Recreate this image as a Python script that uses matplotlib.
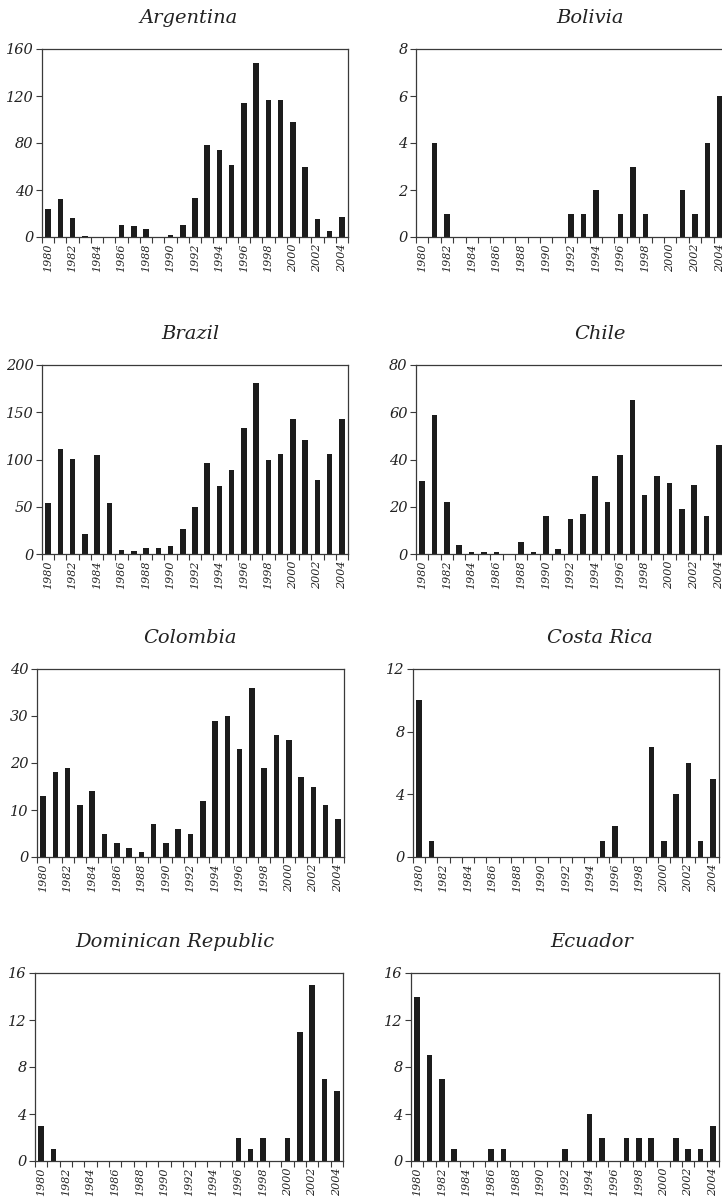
import matplotlib
matplotlib.use("Agg")
import matplotlib.pyplot as plt

years = [1980, 1981, 1982, 1983, 1984, 1985, 1986, 1987, 1988, 1989, 1990,
         1991, 1992, 1993, 1994, 1995, 1996, 1997, 1998, 1999, 2000, 2001,
         2002, 2003, 2004]

argentina = [24, 32, 16, 1, 0, 0, 10, 9, 7, 0, 2, 10, 33, 78, 74, 61, 114,
             148, 117, 117, 98, 60, 15, 5, 17]
bolivia = [0, 4, 1, 0, 0, 0, 0, 0, 0, 0, 0, 0, 1, 1, 2, 0, 1, 3, 1, 0, 0, 2,
           1, 4, 6]
brazil = [54, 111, 101, 21, 105, 54, 4, 3, 6, 6, 8, 26, 50, 96, 72, 89, 133,
          181, 100, 106, 143, 121, 78, 106, 143]
chile = [31, 59, 22, 4, 1, 1, 1, 0, 5, 1, 16, 2, 15, 17, 33, 22, 42, 65, 25,
         33, 30, 19, 29, 16, 46]
colombia = [13, 18, 19, 11, 14, 5, 3, 2, 1, 7, 3, 6, 5, 12, 29, 30, 23, 36,
            19, 26, 25, 17, 15, 11, 8]
costa_rica = [10, 1, 0, 0, 0, 0, 0, 0, 0, 0, 0, 0, 0, 0, 0, 1, 2, 0, 0, 7, 1,
              4, 6, 1, 5]
dominican_republic = [3, 1, 0, 0, 0, 0, 0, 0, 0, 0, 0, 0, 0, 0, 0, 0, 2, 1, 2,
                      0, 2, 11, 15, 7, 6]
ecuador = [14, 9, 7, 1, 0, 0, 1, 1, 0, 0, 0, 0, 1, 0, 4, 2, 0, 2, 2, 2, 0, 2,
           1, 1, 3]

titles = ["Argentina", "Bolivia", "Brazil", "Chile", "Colombia", "Costa Rica",
          "Dominican Republic", "Ecuador"]
series = [argentina, bolivia, brazil, chile, colombia, costa_rica,
          dominican_republic, ecuador]
yticks = [[0, 40, 80, 120, 160], [0, 2, 4, 6, 8], [0, 50, 100, 150, 200],
          [0, 20, 40, 60, 80], [0, 10, 20, 30, 40], [0, 4, 8, 12],
          [0, 4, 8, 12, 16], [0, 4, 8, 12, 16]]

W, H = 722, 1199
fig = plt.figure(figsize=(W / 100, H / 100), dpi=100)

# axes boxes in pixels: left, top, right, bottom
boxes = [(42, 49, 348, 237), (416, 49, 726, 237),
         (42, 365, 348, 554), (416, 365, 725, 554),
         (37, 669, 344, 857), (413, 669, 719, 857),
         (35, 973, 343, 1161), (411, 973, 719, 1161)]
title_pos = [(189, 23), (590, 23), (190, 339), (600, 339),
             (190, 643), (600, 643), (175, 947), (592, 947)]

font = "DejaVu Serif"
bar_color = "#1c1c1c"
spine_color = "#3a3a3a"
text_color = "#222222"

for i in range(8):
    l, t, r, b = boxes[i]
    ax = fig.add_axes([l / W, 1 - b / H, (r - l) / W, (b - t) / H])
    x = list(range(len(years)))
    ax.bar(x, series[i], width=0.45, color=bar_color, linewidth=0)
    ax.set_xlim(-0.5, len(years) - 0.5)
    ax.set_ylim(yticks[i][0], yticks[i][-1])
    ax.set_yticks(yticks[i])
    ax.set_yticklabels([str(v) for v in yticks[i]], fontstyle="italic",
                       fontfamily=font, fontsize=10.5, color=text_color)
    edges = [k - 0.5 for k in range(len(years) + 1)]
    ax.set_xticks(edges)
    ax.set_xticklabels([])
    ax.set_xticks(x[::2], minor=True)
    ax.set_xticklabels([str(years[k]) for k in x[::2]], minor=True,
                       rotation=90, fontstyle="italic", fontfamily=font,
                       fontsize=8, color=text_color)
    ax.tick_params(axis="x", which="major", direction="out", length=4,
                   width=0.8, color=spine_color)
    ax.tick_params(axis="x", which="minor", length=0, pad=5)
    ax.tick_params(axis="y", direction="out", length=4, width=0.8,
                   color=spine_color, pad=2)
    for s in ax.spines.values():
        s.set_color(spine_color)
        s.set_linewidth(0.9)
    tx, ty = title_pos[i]
    fig.text(tx / W, 1 - ty / H, titles[i], ha="center", va="baseline",
             fontstyle="italic", fontfamily=font, fontsize=14,
             color=text_color)

fig.savefig("out.png", dpi=100)
